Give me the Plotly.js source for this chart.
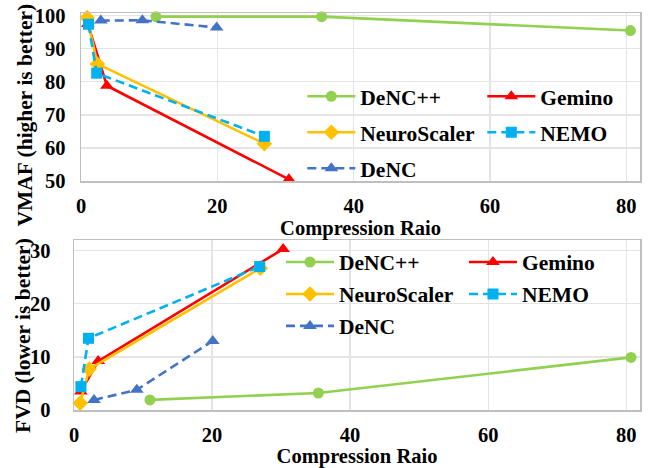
<!DOCTYPE html>
<html>
<head>
<meta charset="utf-8">
<script src="https://cdn.plot.ly/plotly-3.0.1.min.js"></script>
<style>html,body{margin:0;padding:0;background:#fff;}#chart{width:650px;height:468px;}</style>
</head>
<body>
<div id="chart"></div>
<script>
// ---- Data ----
var seriesNames = ["DeNC++", "Gemino", "NeuroScaler", "NEMO", "DeNC"];

// Top panel: VMAF vs compression ratio
var vmafDeNCppX = [11.0, 35.3, 80.6];
var vmafDeNCppY = [99.7, 99.7, 95.5];
var vmafGeminoX = [1.0, 3.8, 30.5];
var vmafGeminoY = [97.5, 78.8, 50.5];
var vmafNeuroX = [0.9, 2.4, 26.9];
var vmafNeuroY = [99.4, 85.4, 61.3];
var vmafNemoX = [1.1, 2.3, 26.9];
var vmafNemoY = [97.4, 82.6, 63.5];
var vmafDeNCX = [2.9, 9.0, 19.9];
var vmafDeNCY = [98.5, 98.6, 96.4];

// Bottom panel: FVD vs compression ratio
var fvdDeNCppX = [11.0, 35.4, 80.7];
var fvdDeNCppY = [1.9, 3.2, 9.9];
var fvdGeminoX = [1.0, 3.5, 30.3];
var fvdGeminoY = [3.5, 9.2, 30.3];
var fvdNeuroX = [0.9, 2.2, 27.0];
var fvdNeuroY = [1.3, 7.7, 26.7];
var fvdNemoX = [1.0, 2.1, 26.9];
var fvdNemoY = [4.4, 13.5, 27.0];
var fvdDeNCX = [2.9, 9.1, 20.1];
var fvdDeNCY = [1.9, 3.8, 13.0];

var xTicks = [0, 20, 40, 60, 80];
var vmafTicks = [50, 60, 70, 80, 90, 100];
var fvdTicks = [0, 10, 20, 30];
var xTitle = "Compression Raio";
var vmafTitle = "VMAF (higher is better)";
var fvdTitle = "FVD (lower is better)";

// ---- Styles ----
var FONT = "Liberation Serif";
var styles = {
  "DeNC++": {color: "#92D050", symbol: "circle", dash: "solid", size: 11},
  "Gemino": {color: "#FF0000", symbol: "triangle-up", dash: "solid", size: 12},
  "NeuroScaler": {color: "#FFC000", symbol: "diamond", dash: "solid", size: 12},
  "NEMO": {color: "#00B0F0", symbol: "square", dash: "9px,5px", size: 11},
  "DeNC": {color: "#4472C4", symbol: "triangle-up", dash: "9px,5px", size: 12}
};

function mk(name, xs, ys, xa, ya, legendId, grp) {
  var s = styles[name];
  return {
    type: "scatter", mode: "lines+markers", name: name,
    x: xs, y: ys, xaxis: xa, yaxis: ya,
    legend: legendId, legendgroup: grp,
    line: {color: s.color, width: 2.6, dash: s.dash},
    marker: {color: s.color, symbol: s.symbol, size: s.size},
    cliponaxis: false
  };
}

var data = [
  mk("DeNC++", vmafDeNCppX, vmafDeNCppY, "x", "y", "legend", "t1"),
  mk("Gemino", vmafGeminoX, vmafGeminoY, "x", "y", "legend2", "t2"),
  mk("NeuroScaler", vmafNeuroX, vmafNeuroY, "x", "y", "legend", "t3"),
  mk("NEMO", vmafNemoX, vmafNemoY, "x", "y", "legend2", "t4"),
  mk("DeNC", vmafDeNCX, vmafDeNCY, "x", "y", "legend", "t5"),
  mk("DeNC++", fvdDeNCppX, fvdDeNCppY, "x2", "y2", "legend3", "b1"),
  mk("Gemino", fvdGeminoX, fvdGeminoY, "x2", "y2", "legend4", "b2"),
  mk("NeuroScaler", fvdNeuroX, fvdNeuroY, "x2", "y2", "legend3", "b3"),
  mk("NEMO", fvdNemoX, fvdNemoY, "x2", "y2", "legend4", "b4"),
  mk("DeNC", fvdDeNCX, fvdDeNCY, "x2", "y2", "legend3", "b5")
];

var tickFont = {family: FONT, size: 20.5, color: "#000", weight: "bold"};
var xTitleFont = {family: FONT, size: 20.5, color: "#000", weight: "bold"};
var yTitleFont = {family: FONT, size: 21.5, color: "#000", weight: "bold"};

function xAxis(domain, anchor) {
  return {
    domain: domain, anchor: anchor, range: [0, 82],
    tickvals: xTicks, ticktext: xTicks.map(String), ticks: "",
    tickfont: tickFont, ticklabelstandoff: 6,
    showgrid: true, gridcolor: "#E4E4E4", gridwidth: 1.3,
    showline: true, mirror: true, linecolor: "#BFBFBF", linewidth: 1.5,
    zeroline: false, automargin: false,
    title: {text: xTitle, font: xTitleFont, standoff: 0}
  };
}
function yAxis(domain, anchor, range, ticks, tlStand) {
  return {
    domain: domain, anchor: anchor, range: range,
    tickvals: ticks, ticktext: ticks.map(String), ticks: "",
    tickfont: tickFont, ticklabelstandoff: tlStand,
    showgrid: true, gridcolor: "#E4E4E4", gridwidth: 1.3,
    showline: true, mirror: true, linecolor: "#BFBFBF", linewidth: 1.5,
    zeroline: false, automargin: false
  };
}

function leg(x, y, gap) {
  return {
    x: x, y: y, xanchor: "left", yanchor: "top",
    orientation: "v", bgcolor: "rgba(0,0,0,0)", borderwidth: 0,
    font: {family: FONT, size: 21.5, color: "#000", weight: "bold"},
    itemwidth: 48, tracegroupgap: gap, traceorder: "grouped"
  };
}

var layout = {
  width: 650, height: 468,
  margin: {l: 74, r: 10, t: 13, b: 58},
  paper_bgcolor: "#fff", plot_bgcolor: "#fff",
  font: {family: FONT, weight: "bold", color: "#000"},
  showlegend: true,
  xaxis: xAxis([0.0124, 1], "y"),
  yaxis: yAxis([0.5768, 1], "x", [50, 100.8], vmafTicks, 10),
  xaxis2: xAxis([0, 1], "y2"),
  yaxis2: yAxis([0, 0.4282], "x2", [0, 32], fvdTicks, 18),
  legend: leg(0.4034, 0.8417, 5),
  legend2: leg(0.7214, 0.8417, 5),
  legend3: leg(0.3657, 0.4244, 1),
  legend4: leg(0.689, 0.4244, 1),
  annotations: [
    {text: vmafTitle, xref: "paper", yref: "paper", x: -0.0883, y: 0.7418,
     xanchor: "center", yanchor: "middle", textangle: -90, showarrow: false, font: yTitleFont},
    {text: fvdTitle, xref: "paper", yref: "paper", x: -0.0901, y: 0.1864,
     xanchor: "center", yanchor: "middle", textangle: -90, showarrow: false, font: yTitleFont}
  ]
};

Plotly.newPlot("chart", data, layout, {staticPlot: true, displayModeBar: false});
</script>
</body>
</html>
